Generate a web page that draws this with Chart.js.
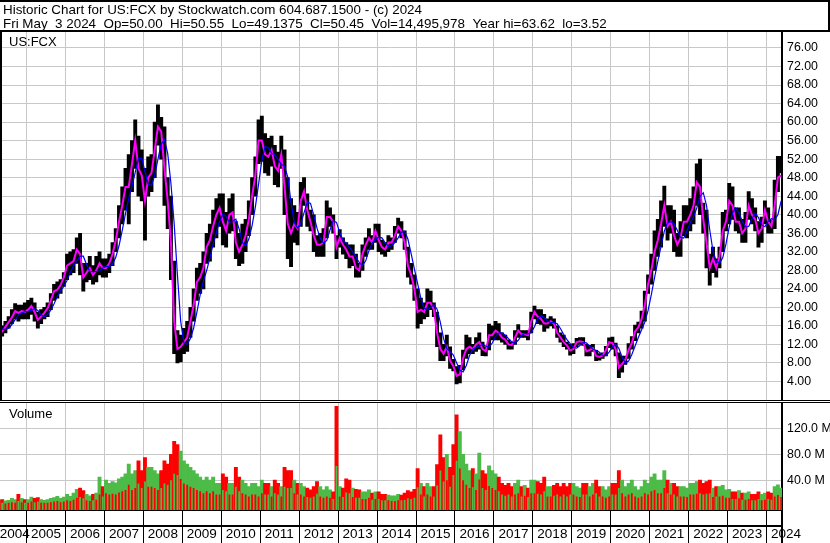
<!DOCTYPE html>
<html>
<head>
<meta charset="utf-8">
<title>US:FCX Historic Chart</title>
<script src="https://cdn.jsdelivr.net/npm/chart.js@4.4.1/dist/chart.umd.min.js"></script>
<style>
  html, body { margin: 0; padding: 0; background: #fff; }
  #wrap { position: relative; width: 830px; height: 543px; }
</style>
</head>
<body>
<div id="wrap"><canvas id="chart" width="830" height="543"></canvas></div>
<script>
// Monthly bars, Apr 2004 .. May 2024
const startYear = 2004;
const startMonth = 4;

const titleLines = [
  'Historic Chart for US:FCX by Stockwatch.com 604.687.1500 - (c) 2024',
  'Fri May  3 2024  Op=50.00  Hi=50.55  Lo=49.1375  Cl=50.45  Vol=14,495,978  Year hi=63.62  lo=3.52'
];
const symbolLabel = 'US:FCX';
const volumeLabel = 'Volume';

const yearLabels = ['2004', '2005', '2006', '2007', '2008', '2009', '2010', '2011', '2012', '2013', '2014',
  '2015', '2016', '2017', '2018', '2019', '2020', '2021', '2022', '2023', '2024'];
const priceTicks = [4, 8, 12, 16, 20, 24, 28, 32, 36, 40, 44, 48, 52, 56, 60, 64, 68, 72, 76];
const volumeTicks = [40, 80, 120];

const priceLow = [
  14.0, 13.8, 14.5, 15.5, 16.5, 17.5, 17.0, 17.5, 17.5,
  17.5, 18.5, 17.0, 15.5, 16.5, 17.5, 18.0, 19.5, 21.5, 22.0, 23.0, 24.5,
  26.0, 27.0, 27.5, 29.5, 27.0, 23.5, 25.5, 26.0, 25.0, 25.5, 27.0, 26.5,
  26.5, 27.5, 29.0, 32.0, 35.0, 38.0, 41.0, 38.0, 45.0, 50.0, 44.0, 43.0,
  34.5, 44.0, 45.0, 48.0, 55.0, 52.0, 42.0, 37.0, 26.0, 10.0, 8.0, 8.2,
  10.0, 10.5, 13.5, 17.0, 21.5, 23.0, 24.0, 29.5, 30.0, 33.0, 35.0, 37.5,
  33.5, 33.0, 36.0, 36.5, 30.5, 29.0, 29.5, 32.0, 35.5, 40.0, 44.0, 51.0,
  51.5, 49.0, 48.5, 50.5, 46.5, 46.0, 50.0, 40.0, 30.5, 28.8, 34.0, 33.5,
  37.5, 42.0, 37.5, 36.5, 32.0, 31.0, 31.0, 31.0, 35.0, 37.5, 36.0, 30.5,
  33.0, 31.5, 30.5, 28.5, 29.0, 26.5, 26.5, 28.0, 31.0, 32.5, 32.5, 34.0,
  32.0, 31.5, 31.0, 32.0, 32.5, 34.0, 36.0, 35.0, 32.5, 26.5, 25.0, 21.5,
  15.5, 16.5, 17.5, 18.0, 19.5, 18.0, 11.5, 8.5, 8.5, 9.5, 6.8, 6.3,
  3.5, 3.7, 6.5, 9.0, 10.0, 10.0, 10.5, 11.0, 9.6, 9.5, 10.8, 13.0,
  13.0, 13.0, 12.5, 12.0, 11.0, 11.0, 12.0, 13.5, 13.5, 13.5, 13.0, 14.5,
  17.5, 16.5, 16.3, 14.8, 15.5, 16.0, 15.5, 13.5, 12.5, 11.5, 11.0, 9.7,
  10.0, 11.5, 12.0, 11.8, 9.5, 9.5, 10.5, 8.5, 8.6, 9.0, 9.5, 11.3,
  11.0, 9.5, 4.8, 6.0, 7.7, 9.0, 11.0, 12.8, 14.5, 15.5, 17.0, 23.0,
  25.0, 28.0, 31.0, 33.0, 37.5, 34.5, 36.0, 32.0, 31.0, 31.0, 35.5, 35.0,
  36.5, 38.0, 42.0, 40.0, 36.0, 28.5, 24.8, 27.5, 26.5, 28.5, 32.0, 36.5,
  38.0, 39.0, 36.5, 36.0, 34.0, 34.0, 39.0, 38.0, 36.5, 33.0, 34.0, 38.0,
  36.0, 36.0, 37.0, 45.0, 49.0
];
const priceHigh = [
  16.5, 16.0, 17.0, 18.0, 19.5, 20.8, 20.5, 20.5, 21.0,
  21.5, 22.0, 21.0, 19.0, 19.5, 20.0, 21.0, 23.0, 25.0, 25.5, 26.0, 27.5,
  31.5, 32.0, 32.5, 35.0, 36.0, 29.5, 29.5, 31.0, 29.0, 31.0, 32.0, 30.5,
  30.5, 31.5, 34.0, 37.0, 42.0, 46.0, 50.0, 53.0, 56.0, 60.5, 57.0, 54.0,
  50.0, 52.5, 53.0, 60.0, 63.7, 61.0, 59.0, 48.0, 44.0, 30.0, 15.0, 14.0,
  15.5, 17.0, 20.0, 24.0, 28.5, 29.5, 32.0, 36.0, 38.0, 41.0, 43.5, 44.5,
  44.5, 40.5, 43.5, 44.5, 38.5, 36.0, 38.0, 39.0, 43.0, 48.0, 52.5, 60.5,
  61.3, 57.5, 56.5, 57.0, 55.0, 53.5, 57.0, 54.0, 48.0, 43.5, 42.0, 40.5,
  47.0, 48.0, 44.5, 41.0, 40.0, 35.5, 36.0, 37.0, 43.0, 41.5, 40.0, 35.5,
  36.8, 35.0, 34.0, 33.5, 33.5, 31.5, 29.5, 33.5, 35.0, 37.0, 35.5, 38.0,
  38.0, 34.5, 34.0, 35.5, 35.0, 37.5, 39.3, 38.5, 36.5, 33.0, 29.5, 27.0,
  24.0, 22.0, 21.0, 24.0, 23.5, 21.0, 19.0, 14.5, 12.0, 14.0, 11.5, 8.8,
  7.2, 7.5, 10.8, 14.0, 13.5, 12.0, 13.5, 14.5, 12.5, 11.5, 16.4, 16.0,
  17.0, 16.5, 14.5, 14.0, 13.0, 12.5, 15.0, 16.3, 15.0, 15.0, 15.0, 19.0,
  20.3, 19.5, 19.5, 18.5, 17.5, 18.0, 17.5, 16.0, 14.5, 14.0, 12.5, 12.0,
  12.2, 13.3, 13.5, 13.5, 12.0, 11.8, 12.0, 10.7, 10.0, 10.2, 11.6, 13.4,
  13.6, 12.3, 10.2, 9.5, 9.5, 12.2, 13.7, 16.2, 16.8, 19.2, 23.5, 27.0,
  31.5, 36.5, 39.0, 43.0, 46.2, 42.0, 42.0, 41.0, 36.0, 38.5, 42.0, 42.0,
  43.5, 46.0, 51.0, 52.0, 42.5, 41.0, 31.5, 33.0, 30.5, 33.0, 40.5, 41.0,
  46.8, 46.0, 41.5, 41.5, 39.0, 40.5, 45.0, 43.5, 41.5, 38.5, 39.5, 43.0,
  41.5, 38.8, 47.5, 52.6, 52.6
];
// short moving average (magenta)
const maShort = [
  15.2, 14.8, 15.8, 16.8, 17.8, 19.2, 18.8, 19.2, 19.0,
  19.5, 20.3, 19.0, 17.3, 18.0, 18.8, 19.8, 21.5, 23.5, 23.8, 24.8, 26.5,
  29.0, 29.5, 30.0, 32.5, 31.5, 26.5, 27.5, 28.5, 27.0, 28.0, 29.5, 28.5,
  28.5, 29.5, 31.5, 34.5, 38.5, 42.0, 46.0, 46.0, 51.0, 56.0, 50.0, 48.5,
  43.0, 48.0, 49.0, 54.0, 59.0, 58.0, 50.0, 43.0, 34.0, 17.0, 11.0, 11.5,
  12.5, 13.5, 17.0, 20.5, 25.5, 26.5, 28.5, 33.0, 34.5, 37.5, 40.0, 41.5,
  38.5, 36.5, 40.0, 40.5, 34.0, 32.0, 33.5, 35.5, 39.0, 44.0, 48.5, 56.0,
  56.0, 53.0, 52.5, 54.0, 50.5, 49.5, 53.0, 46.0, 38.0, 36.0, 38.0, 37.0,
  43.0, 45.0, 41.0, 38.5, 35.5, 33.5, 33.5, 34.0, 39.5, 39.5, 38.5, 33.0,
  35.0, 33.5, 32.5, 31.0, 31.0, 28.5, 28.0, 31.5, 33.5, 35.0, 34.0, 36.5,
  34.5, 33.0, 32.5, 34.0, 34.0, 35.5, 37.5, 36.5, 34.0, 29.0, 27.0, 24.0,
  19.0, 19.5, 19.0, 21.0, 21.0, 19.5, 14.5, 11.0, 10.0, 11.5, 8.5, 7.3,
  5.2, 5.5, 9.0, 11.0, 11.5, 11.0, 12.0, 12.5, 11.0, 10.5, 14.0, 14.0,
  15.0, 14.5, 13.5, 13.0, 12.0, 11.8, 13.5, 15.0, 14.2, 14.2, 14.0, 17.0,
  19.0, 18.0, 17.5, 16.5, 16.5, 17.0, 16.5, 14.5, 13.5, 12.5, 11.8, 10.7,
  11.0, 12.5, 12.7, 12.5, 10.5, 10.8, 11.2, 9.5, 9.3, 9.6, 10.8, 12.5,
  12.3, 11.0, 7.0, 7.8, 8.7, 10.8, 12.3, 14.8, 15.7, 17.5, 20.5, 25.0,
  28.0, 32.0, 34.5, 38.0, 42.0, 37.5, 38.5, 35.5, 33.5, 35.0, 38.5, 38.5,
  40.0, 42.0, 47.0, 46.0, 39.0, 34.0, 28.5, 30.5, 28.5, 31.0, 36.5, 38.5,
  43.0, 42.0, 38.5, 38.5, 36.0, 37.0, 42.0, 40.0, 39.0, 36.0, 37.0, 41.0,
  38.5, 37.5, 42.0, 48.0, 48.5
];
// long moving average (blue)
const maLong = [
  15.6, 15.35, 15.2, 15.5, 16.3, 17.35, 18.3, 18.85, 19.05,
  19.15, 19.4, 19.7, 19.35, 18.4, 17.95, 18.45, 19.45, 20.8, 22.35, 23.55, 24.5,
  25.85, 27.6, 29.0, 30.0, 31.05, 31.05, 29.25, 27.75, 27.7, 27.75, 27.85, 28.5,
  28.85, 28.8, 29.3, 30.8, 33.3, 36.6, 40.25, 43.55, 46.15, 49.15, 52.15, 52.2,
  49.3, 46.55, 46.3, 48.5, 52.0, 55.25, 56.25, 53.25, 46.75, 38.0, 27.0, 17.0,
  12.3, 12.05, 13.3, 15.55, 18.95, 22.7, 25.65, 27.95, 30.7, 33.6, 36.15, 38.6,
  40.1, 39.6, 38.35, 38.6, 39.05, 36.95, 34.0, 33.25, 34.75, 37.65, 41.65, 46.6,
  51.7, 54.7, 54.45, 53.3, 52.9, 51.95, 50.85, 50.5, 48.1, 42.65, 38.25, 37.15,
  38.05, 40.4, 42.75, 42.45, 39.9, 37.1, 34.9, 33.8, 34.45, 36.7, 38.7, 38.35,
  36.15, 34.5, 33.85, 33.0, 31.9, 30.9, 29.7, 29.0, 30.05, 32.25, 33.9, 34.65,
  35.15, 35.0, 33.95, 33.15, 33.3, 34.0, 35.0, 36.2, 36.45, 34.75, 31.6, 28.3,
  25.15, 21.95, 19.85, 19.45, 20.05, 20.55, 19.6, 16.75, 13.25, 11.1, 10.5, 9.7,
  8.05, 6.45, 6.05, 7.45, 9.6, 10.95, 11.35, 11.65, 11.95, 11.65, 11.4, 12.3,
  13.7, 14.45, 14.5, 14.0, 13.25, 12.55, 12.25, 12.9, 13.95, 14.4, 14.3, 14.5,
  15.8, 17.55, 18.2, 17.75, 17.1, 16.7, 16.7, 16.45, 15.45, 14.15, 13.05, 12.15,
  11.4, 11.2, 11.75, 12.4, 12.35, 11.6, 10.95, 10.75, 10.3, 9.65, 9.6, 10.35,
  11.45, 12.0, 11.15, 9.25, 8.0, 8.4, 9.85, 11.65, 13.5, 15.15, 16.85, 19.35,
  22.75, 26.45, 29.95, 33.2, 36.45, 38.3, 38.5, 38.0, 36.65, 35.1, 34.95, 36.55,
  38.25, 39.5, 41.45, 43.9, 44.75, 42.0, 36.7, 32.15, 29.95, 29.55, 30.7, 33.7,
  37.35, 40.35, 41.5, 40.4, 38.65, 37.4, 37.45, 39.15, 40.3, 39.4, 37.75, 37.4,
  38.6, 39.15, 38.9, 40.0, 43.0
];
// volume in millions: monthly peak and typical day
const volPeak = [
  9, 10, 8, 9, 12, 10, 18, 12, 10,
  10, 14, 12, 13, 10, 9, 10, 12, 13, 15, 12, 14,
  18, 15, 20, 26, 28, 24, 18, 16, 18, 20, 45, 30,
  40, 35, 38, 36, 42, 45, 50, 65, 50, 55, 70, 55,
  75, 60, 60, 55, 50, 55, 70, 65, 80, 100, 95, 85,
  70, 65, 60, 55, 50, 45, 40, 45, 40, 45, 35, 35,
  50, 45, 35, 35, 60, 45, 40, 35, 30, 35, 35, 30,
  40, 35, 35, 30, 40, 35, 30, 60, 55, 55, 40, 35,
  35, 30, 28, 25, 30, 38, 30, 25, 30, 25, 22, 154,
  30, 28, 42, 40, 28, 26, 25, 22, 22, 25, 20, 22,
  22, 18, 18, 17, 16, 16, 18, 17, 20, 24, 22, 26,
  58, 35, 30, 35, 30, 30, 64, 110, 75, 80, 60, 95,
  141, 115, 80, 65, 55, 58, 50, 82, 55, 50, 62, 55,
  50, 45, 35, 32, 35, 30, 35, 40, 30, 32, 28, 40,
  40, 38, 35, 45, 30, 30, 32, 35, 30, 35, 30, 35,
  35, 30, 28, 35, 35, 30, 35, 40, 30, 30, 25, 30,
  35, 35, 55, 40, 30, 35, 40, 30, 25, 30, 40, 35,
  45, 50, 40, 40, 55, 40, 35, 35, 30, 30, 30, 28,
  35, 35, 38, 40, 35, 38, 40, 28, 30, 30, 32, 25,
  26, 22, 22, 24, 20, 20, 22, 18, 18, 22, 18, 20,
  22, 20, 30, 33, 28
];
const volBase = [
  5, 5, 4, 5, 6, 5, 8, 6, 5,
  5, 7, 6, 7, 5, 5, 5, 6, 7, 8, 6, 7,
  9, 8, 10, 13, 14, 12, 9, 8, 9, 10, 18, 15,
  20, 18, 19, 18, 21, 23, 25, 33, 25, 28, 35, 28,
  38, 30, 30, 28, 25, 28, 35, 33, 40, 50, 48, 42,
  35, 33, 30, 28, 25, 23, 20, 23, 20, 23, 18, 18,
  25, 23, 18, 18, 30, 23, 20, 18, 15, 18, 18, 15,
  20, 18, 18, 15, 20, 18, 15, 30, 28, 28, 20, 18,
  18, 15, 14, 13, 15, 19, 15, 13, 15, 13, 11, 62,
  15, 14, 21, 20, 14, 13, 13, 11, 11, 13, 10, 11,
  11, 9, 9, 9, 8, 8, 9, 9, 10, 12, 11, 13,
  29, 18, 15, 18, 15, 15, 32, 55, 38, 40, 30, 48,
  70, 58, 40, 33, 28, 29, 25, 41, 28, 25, 31, 28,
  25, 23, 18, 16, 18, 15, 18, 20, 15, 16, 14, 20,
  20, 19, 18, 23, 15, 15, 16, 18, 15, 18, 15, 18,
  18, 15, 14, 18, 18, 15, 18, 20, 15, 15, 13, 15,
  18, 18, 28, 20, 15, 18, 20, 15, 13, 15, 20, 18,
  23, 25, 20, 20, 28, 20, 18, 18, 15, 15, 15, 14,
  18, 18, 19, 20, 18, 19, 20, 14, 15, 15, 16, 13,
  13, 11, 11, 12, 10, 10, 11, 9, 9, 11, 9, 10,
  11, 10, 15, 17, 14
];

const UP = '#4cbb47';
const DOWN = '#ff0000';
const GRID = '#c8c8c8';
const FONT = '"Liberation Sans", Arial, sans-serif';

// x axis in fractional years
const xMin = 2004.3196;
const xMax = 2024.3966;
const monthTimes = priceHigh.map((v, i) => startYear + (startMonth - 1 + i + 0.5) / 12);
const upMonth = maShort.map((v, i) => i === 0 || v >= maShort[i - 1]);

const priceMin = -0.32, priceMax = 79.66;
const volMin = -6.0, volMax = 161.5;

const framePlugin = {
  id: 'frame',
  afterDraw(chart) {
    const ctx = chart.ctx;
    const area = chart.chartArea;
    const priceBottom = Math.floor(chart.scales.price.bottom);
    ctx.save();
    ctx.fillStyle = '#000';
    // title box
    ctx.fillRect(0, 0, 830, 2);
    ctx.fillRect(828, 0, 2, 31);
    ctx.fillRect(0, 30, 830, 2);
    // left edge of the price panel
    ctx.fillRect(0, 31, 2, priceBottom - 31);
    // double rule between the panels
    ctx.fillStyle = '#fff';
    ctx.fillRect(0, priceBottom - 1, 830, 3);
    ctx.fillStyle = '#000';
    ctx.fillRect(0, priceBottom - 1, 830, 1);
    ctx.fillRect(0, priceBottom + 1, 830, 1);
    // date strip rules
    ctx.fillRect(0, 525, area.right + 1, 2);
    ctx.fillRect(area.right - 1, area.bottom, 2, 543 - area.bottom);

    ctx.textAlign = 'left';
    ctx.textBaseline = 'alphabetic';
    ctx.font = '13.4px ' + FONT;
    ctx.fillText(titleLines[0], 3, 13.5);
    ctx.fillText(titleLines[1], 3, 27.5);
    ctx.font = '13px ' + FONT;
    ctx.fillText(symbolLabel, 9, 46);
    ctx.fillText(volumeLabel, 9, 418);
    ctx.restore();
  }
};

new Chart(document.getElementById('chart'), {
  type: 'line',
  data: {
    datasets: [
      {
        type: 'line',
        label: 'MA long',
        data: monthTimes.map((t, i) => ({ x: t, y: maLong[i] })),
        yAxisID: 'price',
        borderColor: '#0000ff',
        borderWidth: 1.2,
        pointRadius: 0,
        tension: 0,
        order: 0,
      },
      {
        type: 'line',
        label: 'MA short',
        data: monthTimes.map((t, i) => ({ x: t, y: maShort[i] })),
        yAxisID: 'price',
        borderColor: '#ff00ff',
        borderWidth: 2,
        pointRadius: 0,
        tension: 0,
        order: 1,
      },
      {
        type: 'bar',
        label: 'Range',
        data: monthTimes.map((t, i) => ({ x: t, y: [priceLow[i], priceHigh[i]] })),
        yAxisID: 'price',
        backgroundColor: '#000',
        borderWidth: 0,
        barPercentage: 1,
        categoryPercentage: 1,
        grouped: false,
        order: 2,
      },
      {
        type: 'bar',
        label: 'Volume typical',
        data: monthTimes.map((t, i) => ({ x: t, y: volBase[i] })),
        yAxisID: 'volume',
        base: volMin,
        backgroundColor: upMonth.map(u => u ? DOWN : UP),
        borderWidth: 0,
        barPercentage: 0.55,
        categoryPercentage: 1,
        grouped: false,
        order: 3,
      },
      {
        type: 'bar',
        label: 'Volume peak',
        data: monthTimes.map((t, i) => ({ x: t, y: volPeak[i] })),
        yAxisID: 'volume',
        base: volMin,
        backgroundColor: upMonth.map(u => u ? UP : DOWN),
        borderWidth: 0,
        barPercentage: 1,
        categoryPercentage: 1,
        grouped: false,
        order: 4,
      }
    ]
  },
  options: {
    responsive: false,
    animation: false,
    devicePixelRatio: 1,
    events: [],
    layout: { padding: { top: 31, left: 0, right: 0, bottom: 0 } },
    plugins: {
      legend: { display: false },
      tooltip: { enabled: false },
    },
    scales: {
      x: {
        type: 'linear',
        position: 'bottom',
        min: xMin,
        max: xMax,
        offset: false,
        afterBuildTicks: scale => {
          scale.ticks = yearLabels.map((y, i) => ({ value: i === 0 ? xMin - 0.12 : Number(y) }));
        },
        afterFit: scale => { scale.height = 33; },
        grid: { color: GRID, tickColor: '#000', tickLength: 34, lineWidth: 1, offset: false },
        border: { color: '#000', width: 2 },
        ticks: {
          align: 'start',
          labelOffset: 4.5,
          padding: -17.4,
          autoSkip: false,
          maxRotation: 0,
          color: '#000',
          font: { family: '"Liberation Sans Narrow", "Liberation Sans", Arial, sans-serif', size: 13.5 },
          callback: (value, index) => yearLabels[index],
        },
      },
      price: {
        type: 'linear',
        position: 'right',
        stack: 'panels',
        stackWeight: 370.5,
        min: priceMin,
        max: priceMax,
        afterBuildTicks: scale => { scale.ticks = priceTicks.map(v => ({ value: v })); },
        afterFit: scale => { scale.width = 48; },
        grid: { color: GRID, drawTicks: false, lineWidth: 1 },
        border: { color: '#000', width: 2 },
        ticks: {
          autoSkip: false,
          padding: 5,
          color: '#000',
          font: { family: FONT, size: 12.4 },
          callback: v => v.toFixed(2),
        },
      },
      volume: {
        type: 'linear',
        position: 'right',
        stack: 'panels',
        stackWeight: 108.5,
        min: volMin,
        max: volMax,
        afterBuildTicks: scale => { scale.ticks = volumeTicks.map(v => ({ value: v })); },
        afterFit: scale => { scale.width = 48; },
        grid: { color: GRID, drawTicks: false, lineWidth: 1 },
        border: { color: '#000', width: 2 },
        ticks: {
          autoSkip: false,
          padding: 5,
          color: '#000',
          font: { family: FONT, size: 12.4 },
          callback: v => v.toFixed(1) + ' M',
        },
      },
    },
  },
  plugins: [framePlugin],
});
</script>
</body>
</html>
